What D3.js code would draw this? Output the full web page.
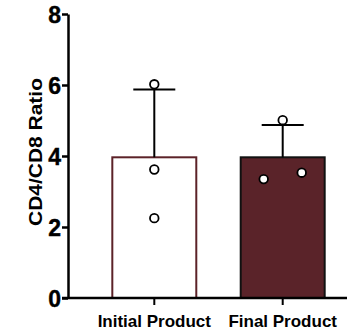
<!DOCTYPE html>
<html lang="en">
<head>
    <meta charset="UTF-8">
    <title>CD4/CD8 Ratio</title>
    <style>
        body {
            margin: 0;
            background: #ffffff;
        }
        svg text {
            font-family: 'Liberation Sans', Arial, sans-serif;
            font-weight: bold;
            fill: #000;
        }
    </style>
</head>
<body>
    <svg id="chart" width="349" height="332"></svg>

    <script src="https://d3js.org/d3.v7.min.js"></script>
    <script>
        const categories = ['Initial Product', 'Final Product'];
        const initialValues = [6.02, 3.62, 2.25];
        const finalValues = [5.01, 3.35, 3.53];
        const yTicks = [0, 2, 4, 6, 8];
        const yLabel = 'CD4/CD8 Ratio';

        const groups = [
            { name: categories[0], values: initialValues, fill: '#ffffff', stroke: '#5c2228' },
            { name: categories[1], values: finalValues, fill: '#5a2329', stroke: '#111111' }
        ];
        // horizontal scatter of the dots inside each bar (px)
        const jitter = [[0, 0, 0], [0, -19, 19]];

        const svg = d3.select('#chart');
        const axisX = 68, baseY = 298;

        const y = d3.scaleLinear().domain([0, 8]).range([baseY, 14]);
        const x = d3.scaleBand()
            .domain(categories)
            .range([90.1, 346.9])
            .paddingInner(0.346)
            .paddingOuter(0.173);

        groups.forEach(g => {
            g.mean = d3.mean(g.values);
            g.sd = d3.deviation(g.values);
        });

        // bars
        svg.selectAll('rect.bar')
            .data(groups)
            .join('rect')
            .attr('class', 'bar')
            .attr('x', d => x(d.name))
            .attr('y', d => y(d.mean))
            .attr('width', x.bandwidth())
            .attr('height', d => y(0) - y(d.mean))
            .attr('fill', d => d.fill)
            .attr('stroke', d => d.stroke)
            .attr('stroke-width', 2);

        // error bars (upper only)
        const cx = d => x(d.name) + x.bandwidth() / 2;
        const err = svg.append('g').attr('stroke', '#000').attr('stroke-width', 2);
        err.selectAll('line.v')
            .data(groups)
            .join('line')
            .attr('x1', cx).attr('x2', cx)
            .attr('y1', d => y(d.mean)).attr('y2', d => y(d.mean + d.sd));
        err.selectAll('line.cap')
            .data(groups)
            .join('line')
            .attr('x1', d => cx(d) - 21).attr('x2', d => cx(d) + 21)
            .attr('y1', d => y(d.mean + d.sd)).attr('y2', d => y(d.mean + d.sd));

        // individual points
        groups.forEach((g, gi) => {
            svg.append('g').selectAll('circle')
                .data(g.values)
                .join('circle')
                .attr('cx', (v, i) => cx(g) + jitter[gi][i])
                .attr('cy', v => y(v))
                .attr('r', 4.3)
                .attr('fill', '#fff')
                .attr('stroke', '#000')
                .attr('stroke-width', 1.8);
        });

        // y axis
        const yAxis = svg.append('g')
            .attr('transform', `translate(${axisX},0)`)
            .call(d3.axisLeft(y).tickValues(yTicks).tickSize(6).tickPadding(1).tickSizeOuter(0));
        yAxis.select('.domain').attr('stroke-width', 2.5);
        yAxis.selectAll('.tick line').attr('stroke-width', 2.5);
        yAxis.selectAll('.tick text')
            .style('font-size', '23px')
            .attr('dy', '0.36em')
            .attr('stroke', '#000')
            .attr('stroke-width', 0.4);

        // x axis
        const xAxis = svg.append('g')
            .attr('transform', `translate(0,${baseY})`)
            .call(d3.axisBottom(x).tickSize(7).tickPadding(10).tickSizeOuter(0));
        xAxis.select('.domain').remove();
        xAxis.selectAll('.tick line').attr('stroke-width', 2);
        xAxis.selectAll('.tick text').style('font-size', '17px');
        svg.append('line')
            .attr('x1', 62).attr('x2', 347)
            .attr('y1', baseY).attr('y2', baseY)
            .attr('stroke', '#000')
            .attr('stroke-width', 2.5);

        // y label
        svg.append('text')
            .attr('transform', 'translate(42,152) rotate(-90)')
            .attr('text-anchor', 'middle')
            .style('font-size', '18.5px')
            .attr('textLength', 148)
            .attr('lengthAdjust', 'spacingAndGlyphs')
            .text(yLabel);
    </script>
</body>
</html>
